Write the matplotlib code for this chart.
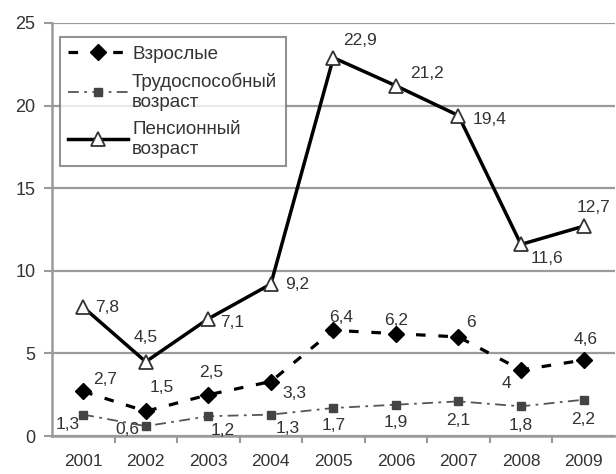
import matplotlib.pyplot as plt

plt.rcParams['font.family'] = ['Liberation Sans', 'DejaVu Sans']

# данные по годам
years = ['2001', '2002', '2003', '2004', '2005', '2006', '2007', '2008', '2009']
adults = [2.7, 1.5, 2.5, 3.3, 6.4, 6.2, 6.0, 4.0, 4.6]
working = [1.3, 0.6, 1.2, 1.3, 1.7, 1.9, 2.1, 1.8, 2.2]
pension = [7.8, 4.5, 7.1, 9.2, 22.9, 21.2, 19.4, 11.6, 12.7]

# смещения подписей (пиксели) и выравнивание
pension_off = [(12, 0, 'left'), (0, 24, 'center'), (12, -4, 'left'), (14, 0, 'left'),
               (10, 17, 'left'), (14, 12, 'left'), (14, -4, 'left'), (10, -14, 'left'),
               (10, 19, 'center')]
adults_off = [(10, 12, 'left'), (4, 24, 'left'), (3, 22, 'center'), (12, -12, 'left'),
              (8, 13, 'center'), (0, 13, 'center'), (8, 14, 'left'), (-10, -14, 'right'),
              (2, 21, 'center')]
working_off = [(-4, -10, 'right'), (-6, -3, 'right'), (2, -14, 'left'), (5, -14, 'left'),
               (0, -18, 'center'), (0, -18, 'center'), (0, -19, 'center'), (0, -19, 'center'),
               (0, -20, 'center')]

txt = '#333333'
grid = '#9a9a9a'

fig = plt.figure(figsize=(6.16, 4.74), dpi=100)
ax = fig.add_axes([0.0844, 0.080, 0.9136, 0.8715])

x = list(range(len(years)))

ax.plot(x, adults, color='black', lw=2.3, ls=(0, (3, 4)), marker='D', ms=8,
        mfc='black', mec='black', label='Взрослые', zorder=4)
ax.plot(x, working, color='#555555', lw=1.3, ls=(0, (6, 3, 1.5, 3)), marker='s', ms=6,
        mfc='#444444', mec='#444444', label='Трудоспособный\nвозраст', zorder=4)
ax.plot(x, pension, color='black', lw=2.5, marker='^', ms=10, mfc='white',
        mec='#333333', mew=1.3, label='Пенсионный\nвозраст', zorder=5)

def labels(vals, offs):
    for xi, v, (dx, dy, ha) in zip(x, vals, offs):
        s = ('%g' % v).replace('.', ',')
        ax.annotate(s, (xi, v), xytext=(dx, dy), textcoords='offset pixels',
                    ha=ha, va='center', fontsize=12.5, color=txt, zorder=6)

labels(pension, pension_off)
labels(adults, adults_off)
labels(working, working_off)

ax.set_xlim(-0.5, len(years) - 0.5)
ax.set_ylim(0, 25)
ax.set_yticks([0, 5, 10, 15, 20, 25])
ax.set_xticks(x)
ax.set_xticklabels(years)
ax.set_xticks([i + 0.5 for i in range(len(years) - 1)], minor=True)
ax.tick_params(axis='x', which='major', length=0, pad=13, labelsize=12.5, labelcolor=txt)
ax.tick_params(axis='x', which='minor', length=5, width=1.5, color=grid, direction='out')
ax.tick_params(axis='y', length=6, width=1.5, color=grid, pad=6, labelsize=13, labelcolor=txt)

ax.grid(axis='y', color=grid, lw=1.6)
ax.set_axisbelow(True)
for side in ['top', 'right']:
    ax.spines[side].set_visible(False)
for side in ['left', 'bottom']:
    ax.spines[side].set_color(grid)
    ax.spines[side].set_linewidth(1.8)

leg = ax.legend(loc='upper left', bbox_to_anchor=(0.014, 0.966), borderaxespad=0,
                fontsize=13.5, frameon=True, fancybox=False, handlelength=3.2,
                handletextpad=0.2, labelspacing=0.55, borderpad=0.45, labelcolor=txt)
leg.get_frame().set_edgecolor('#777777')
leg.get_frame().set_linewidth(1.5)

fig.savefig('out.png', dpi=100)
